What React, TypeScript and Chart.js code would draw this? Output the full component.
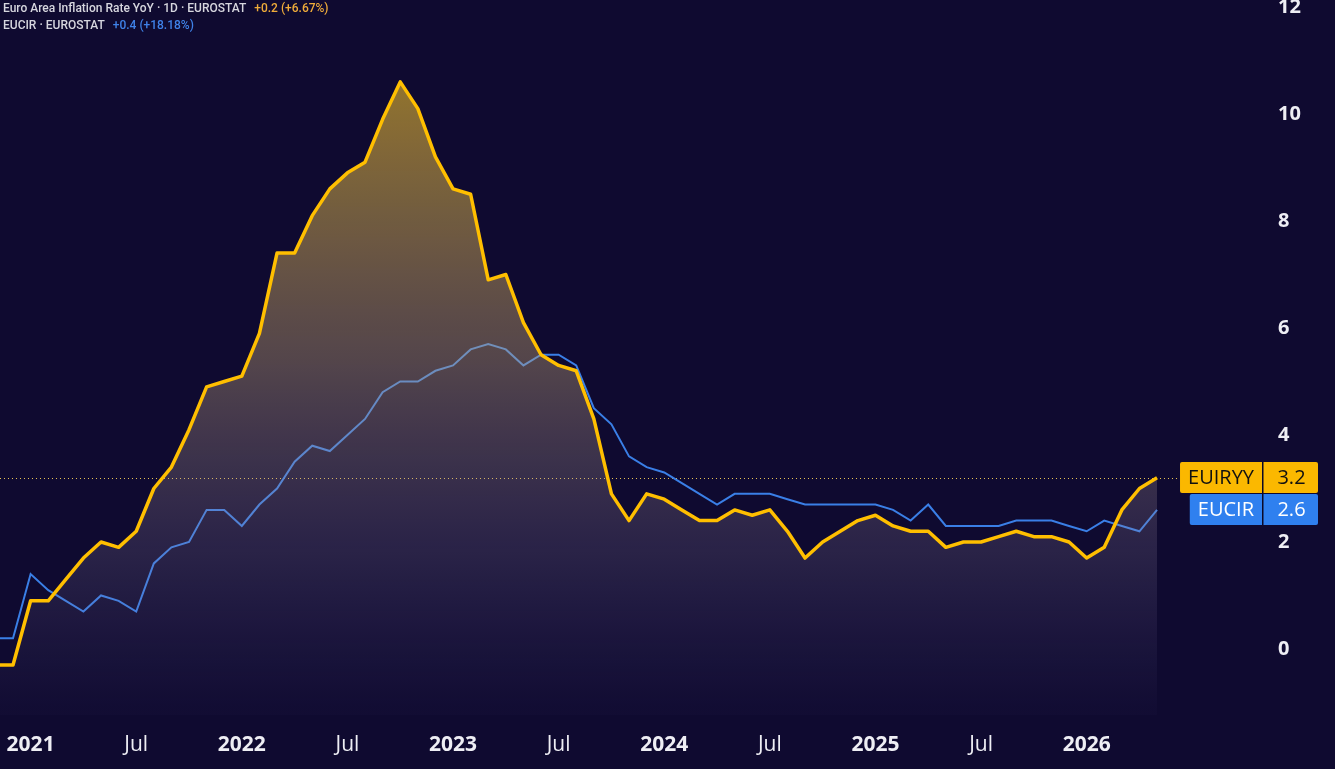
import React, { useEffect, useRef } from "react";
import { Chart, registerables } from "chart.js";

Chart.register(...registerables);

// Monthly observations, Nov 2020 .. May 2026
const MONTHS: string[] = [
  "2020-11", "2020-12",
  "2021-01", "2021-02", "2021-03", "2021-04", "2021-05", "2021-06", "2021-07", "2021-08", "2021-09", "2021-10", "2021-11", "2021-12",
  "2022-01", "2022-02", "2022-03", "2022-04", "2022-05", "2022-06", "2022-07", "2022-08", "2022-09", "2022-10", "2022-11", "2022-12",
  "2023-01", "2023-02", "2023-03", "2023-04", "2023-05", "2023-06", "2023-07", "2023-08", "2023-09", "2023-10", "2023-11", "2023-12",
  "2024-01", "2024-02", "2024-03", "2024-04", "2024-05", "2024-06", "2024-07", "2024-08", "2024-09", "2024-10", "2024-11", "2024-12",
  "2025-01", "2025-02", "2025-03", "2025-04", "2025-05", "2025-06", "2025-07", "2025-08", "2025-09", "2025-10", "2025-11", "2025-12",
  "2026-01", "2026-02", "2026-03", "2026-04", "2026-05",
];

const EUIRYY: number[] = [
  -0.3, -0.3,
  0.9, 0.9, 1.3, 1.7, 2.0, 1.9, 2.2, 3.0, 3.4, 4.1, 4.9, 5.0,
  5.1, 5.9, 7.4, 7.4, 8.1, 8.6, 8.9, 9.1, 9.9, 10.6, 10.1, 9.2,
  8.6, 8.5, 6.9, 7.0, 6.1, 5.5, 5.3, 5.2, 4.3, 2.9, 2.4, 2.9,
  2.8, 2.6, 2.4, 2.4, 2.6, 2.5, 2.6, 2.2, 1.7, 2.0, 2.2, 2.4,
  2.5, 2.3, 2.2, 2.2, 1.9, 2.0, 2.0, 2.1, 2.2, 2.1, 2.1, 2.0,
  1.7, 1.9, 2.6, 3.0, 3.2,
];

const EUCIR: number[] = [
  0.2, 0.2,
  1.4, 1.1, 0.9, 0.7, 1.0, 0.9, 0.7, 1.6, 1.9, 2.0, 2.6, 2.6,
  2.3, 2.7, 3.0, 3.5, 3.8, 3.7, 4.0, 4.3, 4.8, 5.0, 5.0, 5.2,
  5.3, 5.6, 5.7, 5.6, 5.3, 5.5, 5.5, 5.3, 4.5, 4.2, 3.6, 3.4,
  3.3, 3.1, 2.9, 2.7, 2.9, 2.9, 2.9, 2.8, 2.7, 2.7, 2.7, 2.7,
  2.7, 2.6, 2.4, 2.7, 2.3, 2.3, 2.3, 2.3, 2.4, 2.4, 2.4, 2.3,
  2.2, 2.4, 2.3, 2.2, 2.6,
];

const X_TICK_MONTHS: string[] = [
  "2021-01", "2021-07", "2022-01", "2022-07", "2023-01", "2023-07",
  "2024-01", "2024-07", "2025-01", "2025-07", "2026-01",
];
const X_TICK_LABELS: string[] = ["2021", "Jul", "2022", "Jul", "2023", "Jul", "2024", "Jul", "2025", "Jul", "2026"];
const Y_TICKS: number[] = [0, 2, 4, 6, 8, 10, 12];

const SERIES_NAMES = ["EUIRYY", "EUCIR"];
const LEGEND_TITLES = ["Euro Area Inflation Rate YoY · 1D · EUROSTAT", "EUCIR · EUROSTAT"];
const LEGEND_CHANGES = ["+0.2 (+6.67%)", "+0.4 (+18.18%)"];

const BG = "#0f0a30";
const YELLOW = "#ffbf00";
const BLUE = "#3a7fe6";
const BOX_YELLOW = "#fbb800";
const BOX_BLUE = "#2f80ef";
const FONT = '"Open Sans", "Noto Sans", sans-serif';

const monthIndex = (s: string) => {
  const [y, m] = s.split("-").map(Number);
  return (y - 2021) * 12 + (m - 1);
};

const endLabelsPlugin = {
  id: "endLabels",
  beforeDatasetsDraw(chart: any) {
    const { ctx, scales } = chart;
    const y = Math.round(scales.y.getPixelForValue(EUIRYY[EUIRYY.length - 1])) + 0.5;
    ctx.save();
    ctx.strokeStyle = "rgba(255,215,90,0.9)";
    ctx.lineWidth = 1;
    ctx.setLineDash([1, 3]);
    ctx.beginPath();
    ctx.moveTo(0, y);
    ctx.lineTo(1180, y);
    ctx.stroke();
    ctx.restore();
  },
  afterDraw(chart: any) {
    const { ctx, scales } = chart;
    const items = [
      { name: SERIES_NAMES[0], value: EUIRYY[EUIRYY.length - 1], bg: BOX_YELLOW, fg: "#111111" },
      { name: SERIES_NAMES[1], value: EUCIR[EUCIR.length - 1], bg: BOX_BLUE, fg: "#ffffff" },
    ];
    const divider = 1263;
    const right = 1318;
    const h = 31;
    ctx.save();
    ctx.font = `20px ${FONT}`;
    ctx.textBaseline = "middle";
    items.forEach((it) => {
      const cy = scales.y.getPixelForValue(it.value);
      const top = Math.round(cy - h / 2);
      const tw = ctx.measureText(it.name).width;
      const left = divider - tw - 17;
      ctx.fillStyle = it.bg;
      ctx.beginPath();
      (ctx as any).roundRect(left, top, right - left, h, 2);
      ctx.fill();
      ctx.fillStyle = "#0b0826";
      ctx.fillRect(divider - 1, top, 1.5, h);
      ctx.fillStyle = it.fg;
      ctx.textAlign = "left";
      ctx.fillText(it.name, left + 8, top + h / 2 + 1);
      ctx.textAlign = "center";
      ctx.fillText(it.value.toFixed(1), (divider + right) / 2 + 1, top + h / 2 + 1);
    });
    ctx.restore();
  },
};

export default function App() {
  const canvasRef = useRef<HTMLCanvasElement | null>(null);

  useEffect(() => {
    if (!canvasRef.current) return;
    const yellowPts = MONTHS.map((m, i) => ({ x: monthIndex(m), y: EUIRYY[i] }));
    const bluePts = MONTHS.map((m, i) => ({ x: monthIndex(m), y: EUCIR[i] }));

    const chart = new Chart(canvasRef.current, {
      type: "line",
      data: {
        datasets: [
          {
            label: SERIES_NAMES[1],
            data: bluePts,
            borderColor: BLUE,
            borderWidth: 2,
            pointRadius: 0,
            fill: false,
            tension: 0,
            order: 2,
          },
          {
            label: SERIES_NAMES[0],
            data: yellowPts,
            borderColor: YELLOW,
            borderWidth: 3.5,
            pointRadius: 0,
            tension: 0,
            fill: "start",
            borderJoinStyle: "round",
            backgroundColor: (c: any) => {
              const { chart } = c;
              const area = chart.chartArea;
              if (!area) return "rgba(0,0,0,0)";
              const top = chart.scales.y.getPixelForValue(Math.max(...EUIRYY));
              const g = chart.ctx.createLinearGradient(0, top, 0, area.bottom - 8);
              g.addColorStop(0, "rgba(250,200,45,0.56)");
              g.addColorStop(0.45, "rgba(195,165,120,0.38)");
              g.addColorStop(0.75, "rgba(150,135,165,0.2)");
              g.addColorStop(1, "rgba(120,110,170,0.03)");
              return g;
            },
            order: 1,
          },
        ],
      },
      options: {
        animation: false,
        responsive: true,
        maintainAspectRatio: false,
        layout: { padding: 0 },
        plugins: { legend: { display: false }, tooltip: { enabled: false } },
        scales: {
          x: {
            type: "linear",
            position: "bottom",
            min: -1.74,
            max: 65.02,
            grid: { display: false, drawTicks: false },
            border: { display: false },
            afterBuildTicks: (scale: any) => {
              scale.ticks = X_TICK_MONTHS.map((m) => ({ value: monthIndex(m) }));
            },
            afterFit: (scale: any) => {
              scale.height = 54;
              scale.paddingLeft = 0;
              scale.paddingRight = 0;
            },
            ticks: {
              autoSkip: false,
              maxRotation: 0,
              padding: 17,
              color: "#eeeef4",
              font: (c: any) => {
                const idx = c.index ?? 0;
                const isYear = /^\d{4}$/.test(X_TICK_LABELS[idx] || "");
                return { family: FONT, size: 21, weight: isYear ? "bold" : "normal" } as any;
              },
              callback: (_v: any, i: number) => X_TICK_LABELS[i],
            },
          },
          y: {
            type: "linear",
            position: "right",
            min: -1.234,
            max: 12.131,
            grid: { display: false, drawTicks: false },
            border: { display: false },
            afterBuildTicks: (scale: any) => {
              scale.ticks = Y_TICKS.map((v) => ({ value: v }));
            },
            afterFit: (scale: any) => {
              scale.width = 160;
              scale.paddingTop = 0;
              scale.paddingBottom = 0;
            },
            ticks: {
              padding: 103,
              color: "#eeeef4",
              font: { family: FONT, size: 20, weight: "bold" },
              callback: (v: any) => String(v),
            },
          },
        },
      },
      plugins: [endLabelsPlugin],
    } as any);
    return () => chart.destroy();
  }, []);

  return (
    <div
      style={{
        position: "fixed",
        left: 0,
        top: 0,
        width: 1335,
        height: 769,
        background: BG,
        overflow: "hidden",
      }}
    >
      <canvas ref={canvasRef} style={{ position: "absolute", left: 0, top: 0 }} />
      <div
        style={{
          position: "absolute",
          left: 3,
          top: 0,
          fontFamily: 'Roboto, "Open Sans", sans-serif',
          fontSize: 12,
          fontWeight: 500,
          lineHeight: "17px",
          color: "#d6d6de",
          whiteSpace: "nowrap",
          pointerEvents: "none",
        }}
      >
        <div>
          {LEGEND_TITLES[0]}
          <span style={{ color: "#eeab3a", marginLeft: 8 }}>{LEGEND_CHANGES[0]}</span>
        </div>
        <div>
          {LEGEND_TITLES[1]}
          <span style={{ color: "#3f82e8", marginLeft: 8 }}>{LEGEND_CHANGES[1]}</span>
        </div>
      </div>
    </div>
  );
}
